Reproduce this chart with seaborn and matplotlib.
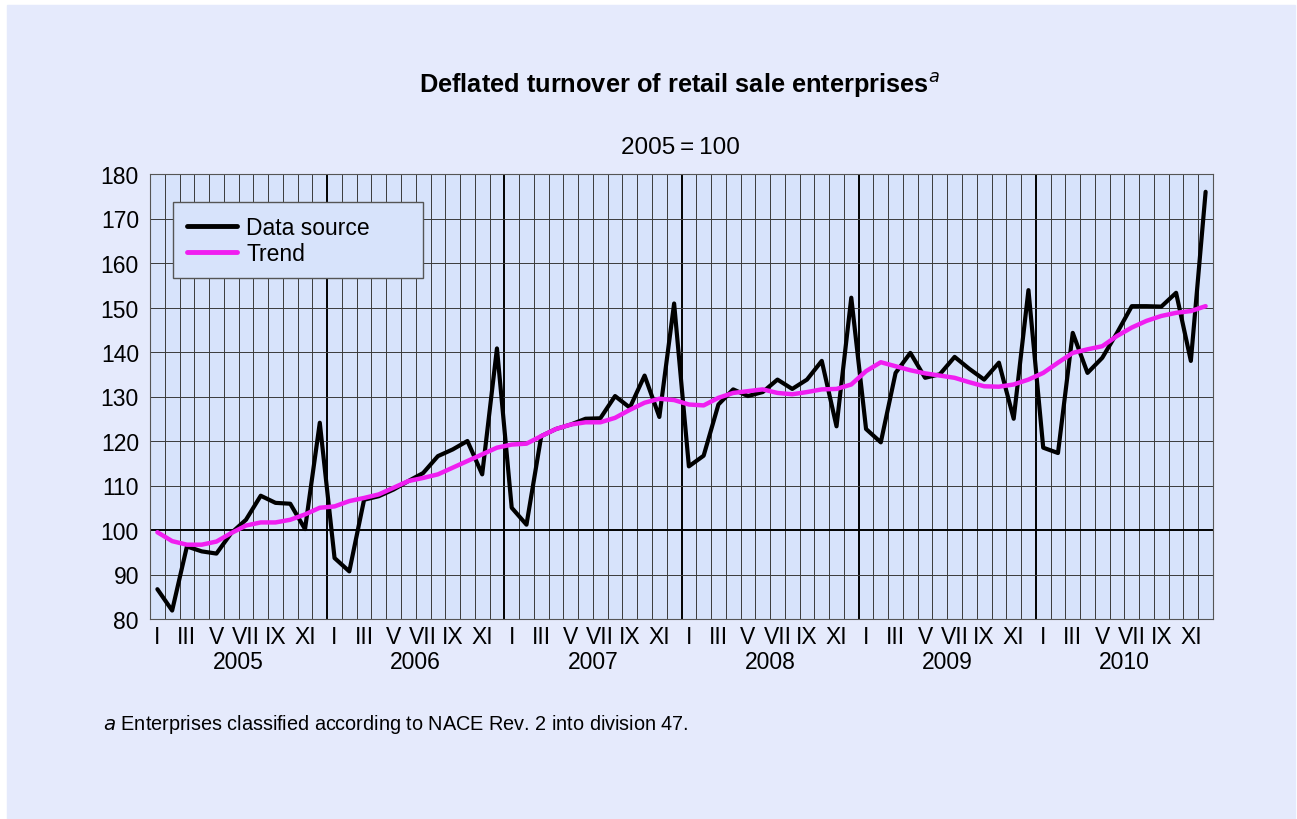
import matplotlib
matplotlib.use("Agg")
import matplotlib.pyplot as plt
import matplotlib.transforms as mtransforms
import numpy as np
import pandas as pd
import seaborn as sns

years = ["2005", "2006", "2007", "2008", "2009", "2010"]
months = ["I", "II", "III", "IV", "V", "VI", "VII", "VIII", "IX", "X", "XI", "XII"]

data_source = [
    86.7, 81.9, 96.3, 95.2, 94.7, 99.3, 102.3, 107.7, 106.1, 105.9, 100.2, 124.1,
    93.7, 90.7, 106.8, 107.6, 109.1, 111.0, 112.8, 116.6, 118.1, 120.0, 112.5, 140.8,
    105.0, 101.2, 121.1, 122.7, 123.7, 125.0, 125.1, 130.1, 127.5, 134.7, 125.4, 150.9,
    114.3, 116.7, 128.2, 131.6, 130.1, 131.0, 133.8, 131.7, 133.8, 138.0, 123.3, 152.2,
    122.7, 119.7, 135.3, 139.8, 134.2, 135.0, 138.9, 136.2, 133.8, 137.6, 125.0, 153.9,
    118.5, 117.3, 144.3, 135.3, 138.7, 144.3, 150.3, 150.3, 150.2, 153.3, 138.0, 176.0,
]
trend = [
    99.5, 97.5, 96.7, 96.7, 97.4, 99.3, 101.0, 101.7, 101.7, 102.3, 103.5, 105.0,
    105.3, 106.5, 107.2, 108.0, 109.5, 111.0, 111.7, 112.5, 114.0, 115.5, 117.0, 118.5,
    119.2, 119.4, 121.1, 122.7, 123.7, 124.2, 124.2, 125.2, 127.0, 128.6, 129.5, 129.2,
    128.2, 128.0, 129.7, 130.8, 131.2, 131.6, 130.8, 130.5, 131.0, 131.6, 131.7, 132.7,
    135.7, 137.7, 136.8, 135.9, 135.2, 134.7, 134.2, 133.2, 132.3, 132.2, 132.7, 133.8,
    135.3, 137.6, 139.8, 140.6, 141.3, 143.6, 145.5, 147.0, 148.1, 148.8, 149.2, 150.3,
]

panel_bg = "#e5eafc"
plot_bg = "#d7e3fb"
fs = 16.5

n = len(data_source)
df = pd.DataFrame({"pos": np.arange(n) + 0.5, "Data source": data_source, "Trend": trend})
long = df.melt(id_vars="pos", var_name="series", value_name="value")

sns.set_style("white")
plt.rcParams["font.family"] = ["Liberation Sans", "DejaVu Sans"]
plt.rcParams["text.color"] = "black"
plt.rcParams["xtick.color"] = "black"
plt.rcParams["ytick.color"] = "black"

fig = plt.figure(figsize=(12.97, 8.2), dpi=100)
fig.patch.set_facecolor("white")
fig.patches.append(plt.Rectangle((7 / 1297, 0), 1288 / 1297, 814 / 820,
                                 transform=fig.transFigure, color=panel_bg, zorder=-10))
ax = fig.add_axes([150 / 1297, 200 / 820, 1063 / 1297, 445 / 820])
ax.set_facecolor(plot_bg)

sns.lineplot(data=long, x="pos", y="value", hue="series",
             palette={"Data source": "black", "Trend": "#f01ef0"},
             ax=ax, zorder=3, legend=True)
for ln in ax.get_lines():
    ln.set_linewidth(3.0 if ln.get_color() == "black" else 3.2)

# grid
for i in range(n + 1):
    if i % 12 == 0 and 0 < i < n:
        ax.axvline(i, color="black", lw=1.4, zorder=1)
    else:
        ax.axvline(i, color="#3a3a3a", lw=0.7, zorder=1)
for v in range(80, 181, 10):
    if v == 100:
        ax.axhline(v, color="black", lw=1.4, zorder=1)
    else:
        ax.axhline(v, color="#3a3a3a", lw=0.7, zorder=1)

ax.set_xlim(0, n)
ax.set_ylim(80, 180)
ax.set_yticks(range(80, 181, 10))
ax.set_xticks(np.arange(0, n, 2) + 0.5)
ax.set_xticklabels([months[i % 12] for i in range(0, n, 2)])
ax.tick_params(axis="both", length=0, labelsize=fs, labelcolor="black")
ax.tick_params(axis="x", pad=4)
ax.tick_params(axis="y", pad=8)
ax.set_xlabel("")
ax.set_ylabel("")
for s in ax.spines.values():
    s.set_color("#555555")
    s.set_linewidth(0.8)

trans = mtransforms.blended_transform_factory(ax.transData, ax.transAxes)
for k, y in enumerate(years):
    ax.text(12 * k + 6, -0.095, y, transform=trans, ha="center", va="center",
            fontsize=fs, color="black")

leg = ax.legend(loc="upper left", bbox_to_anchor=(0.0216, 0.771, 0.235, 0.166),
                mode="expand", borderaxespad=0,
                fontsize=fs, frameon=True, fancybox=False, handlelength=2.2,
                labelspacing=0.12, borderpad=0.6, handletextpad=0.4)
leg.get_frame().set_facecolor(plot_bg)
leg.get_frame().set_edgecolor("#555555")
leg.get_frame().set_alpha(1)
leg.set_title(None)
for t in leg.get_texts():
    t.set_color("black")
for h in leg.get_lines():
    h.set_linewidth(3.5)
leg.set_zorder(5)

fig.text(680 / 1297, 1 - 86 / 820, "Deflated turnover of retail sale enterprises$^{\\it a}$",
         ha="center", va="center", fontsize=18.3, fontweight="bold", color="black")
fig.text(680 / 1297, 1 - 148 / 820, "2005\u2009=\u2009100", ha="center", va="center",
         fontsize=17.5, color="black")
fig.text(103 / 1297, 1 - 725 / 820, "$\\it{a}$ Enterprises classified according to NACE Rev. 2 into division 47.",
         ha="left", va="center", fontsize=14.3, color="black")

fig.savefig("out.png", dpi=100, facecolor=fig.get_facecolor())
